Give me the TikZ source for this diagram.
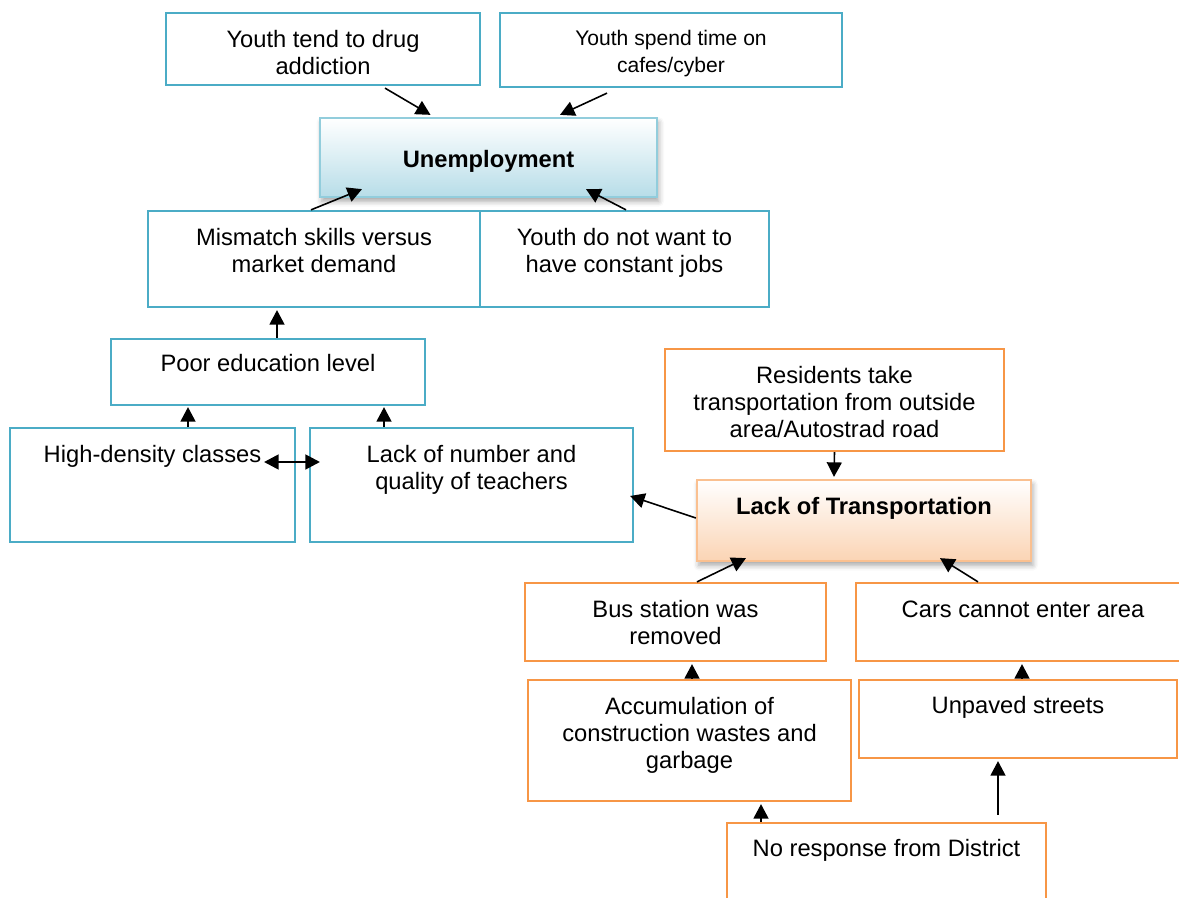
\documentclass[tikz,border=0pt]{standalone}
\usepackage{fontspec}
\setmainfont{Liberation Sans}
\usetikzlibrary{arrows.meta}
\usetikzlibrary{shadows.blur}

\definecolor{bluebd}{HTML}{4BACC6}
\definecolor{orangebd}{HTML}{F79646}
\definecolor{unempbd}{HTML}{92CDDC}
\definecolor{unempbot}{HTML}{B7DDE8}
\definecolor{transbd}{HTML}{FAC090}
\definecolor{transbot}{HTML}{FBD4B4}

\tikzset{
    bluebox/.style={draw=bluebd, line width=1.3pt, rectangle, inner sep=0pt},
    orangebox/.style={draw=orangebd, line width=1.3pt, rectangle, inner sep=0pt},
    txt/.style={anchor=north, align=center, inner sep=0pt, yshift=-0.37cm, font=\fontsize{13.5}{15.3}\selectfont},
    arr/.style={line width=0.9pt, -{Triangle[length=2.9mm, width=3mm]}},
}

\begin{document}
\begin{tikzpicture}[x=0.02cm, y=-0.02cm]
    % causes of unemployment and lack of transportation
    \useasboundingbox (0,0) rectangle (1179,898);

    \node[bluebox, minimum width=6.28cm, minimum height=1.44cm, label={[txt]north:{Youth tend to drug\\addiction}}] (drug) at (323,49) {};
    \node[bluebox, minimum width=6.84cm, minimum height=1.48cm, label={[txt, font=\fontsize{12}{15.3}\selectfont]north:{Youth spend time on\\cafes/cyber}}] (cafe) at (671,50) {};
    \node[draw=unempbd, line width=1.3pt, top color=white, bottom color=unempbot, minimum width=6.74cm, minimum height=1.58cm,
        blur shadow={shadow xshift=1pt, shadow yshift=-2.5pt, shadow blur radius=3pt, shadow opacity=35},
        label={[txt, yshift=-0.3cm, font=\fontsize{13.5}{15.3}\selectfont\bfseries]north:{Unemployment}}] (unemp) at (488.5,157.5) {};
    \node[bluebox, minimum width=6.64cm, minimum height=1.92cm, label={[txt]north:{Mismatch skills versus\\market demand}}] (mismatch) at (314,259) {};
    \node[bluebox, minimum width=5.78cm, minimum height=1.92cm, label={[txt]north:{Youth do not want to\\have constant jobs}}] (jobs) at (624.5,259) {};
    \node[bluebox, minimum width=6.28cm, minimum height=1.32cm, label={[txt, yshift=0.04cm]north:{Poor education level}}] (poor) at (268,372) {};
    \node[bluebox, minimum width=5.70cm, minimum height=2.28cm, label={[txt]north:{High-density classes}}] (density) at (152.5,485) {};
    \node[bluebox, minimum width=6.46cm, minimum height=2.28cm, label={[txt]north:{Lack of number and\\quality of teachers}}] (teachers) at (471.5,485) {};

    \node[orangebox, minimum width=6.78cm, minimum height=2.04cm, label={[txt]north:{Residents take\\transportation from outside\\area/Autostrad road}}] (residents) at (834.5,400) {};
    \node[draw=transbd, line width=1.3pt, top color=white, bottom color=transbot, minimum width=6.68cm, minimum height=1.62cm,
        blur shadow={shadow xshift=1pt, shadow yshift=-2.5pt, shadow blur radius=3pt, shadow opacity=35},
        label={[txt, font=\fontsize{13.5}{15.3}\selectfont\bfseries]north:{Lack of Transportation}}] (transport) at (864,520.5) {};
    \node[orangebox, minimum width=6.02cm, minimum height=1.56cm, label={[txt]north:{Bus station was\\removed}}] (bus) at (675.5,622) {};
    \node[orangebox, minimum width=6.68cm, minimum height=1.56cm, label={[txt]north:{Cars cannot enter area}}] (cars) at (1023,622) {};
    \node[orangebox, minimum width=6.46cm, minimum height=2.42cm, label={[txt]north:{Accumulation of\\construction wastes and\\garbage}}] (garbage) at (689.5,740.5) {};
    \node[orangebox, minimum width=6.36cm, minimum height=1.56cm, label={[txt, yshift=0.02cm]north:{Unpaved streets}}] (unpaved) at (1018,719) {};
    \node[orangebox, minimum width=6.38cm, minimum height=1.74cm, label={[txt, yshift=0.02cm]north:{No response from District}}] (district) at (886.5,866.5) {};

    \draw[arr] ([shift={(62,2)}]drug.south) -- ([shift={(-58,-2)}]unemp.north);
    \draw[arr] ([shift={(-64,5)}]cafe.south) -- ([shift={(71.5,-2)}]unemp.north);
    \draw[arr] ([shift={(-3,0)}]mismatch.north) -- ([shift={(-126.5,-9)}]unemp.south);
    \draw[arr] ([shift={(1.5,0)}]jobs.north) -- ([shift={(97.5,-9)}]unemp.south);
    \draw[arr] ([shift={(9,0)}]poor.north) -- ([shift={(-37,2)}]mismatch.south);
    \draw[arr] ([shift={(35.5,0)}]density.north) -- ([shift={(-80,1)}]poor.south);
    \draw[arr] ([shift={(-87.5,0)}]teachers.north) -- ([shift={(116,1)}]poor.south);
    \draw[arr, {Triangle[length=2.9mm, width=3mm]}-{Triangle[length=2.9mm, width=3mm]}] ([shift={(-32,-23)}]density.east) -- ([shift={(11,-23)}]teachers.west);
    \draw[arr] ([shift={(0,-2.5)}]transport.west) -- ([shift={(-4,11)}]teachers.east);

    \draw[arr] (residents.south) -- ([shift={(-30,-2)}]transport.north);
    \draw[arr] ([shift={(21.5,0)}]bus.north) -- ([shift={(-118,-4)}]transport.south);
    \draw[arr] ([shift={(-45,0)}]cars.north) -- ([shift={(76,-4)}]transport.south);
    \draw[arr] ([shift={(2.5,0)}]garbage.north) -- ([shift={(16.5,2)}]bus.south);
    \draw[arr] ([shift={(4,0)}]unpaved.north) -- ([shift={(-1,2)}]cars.south);
    \draw[arr] ([shift={(-125.5,0)}]district.north) -- ([shift={(71.5,2)}]garbage.south);
    \draw[arr] ([shift={(111.5,-7)}]district.north) -- ([shift={(-20,2)}]unpaved.south);
\end{tikzpicture}
\end{document}
